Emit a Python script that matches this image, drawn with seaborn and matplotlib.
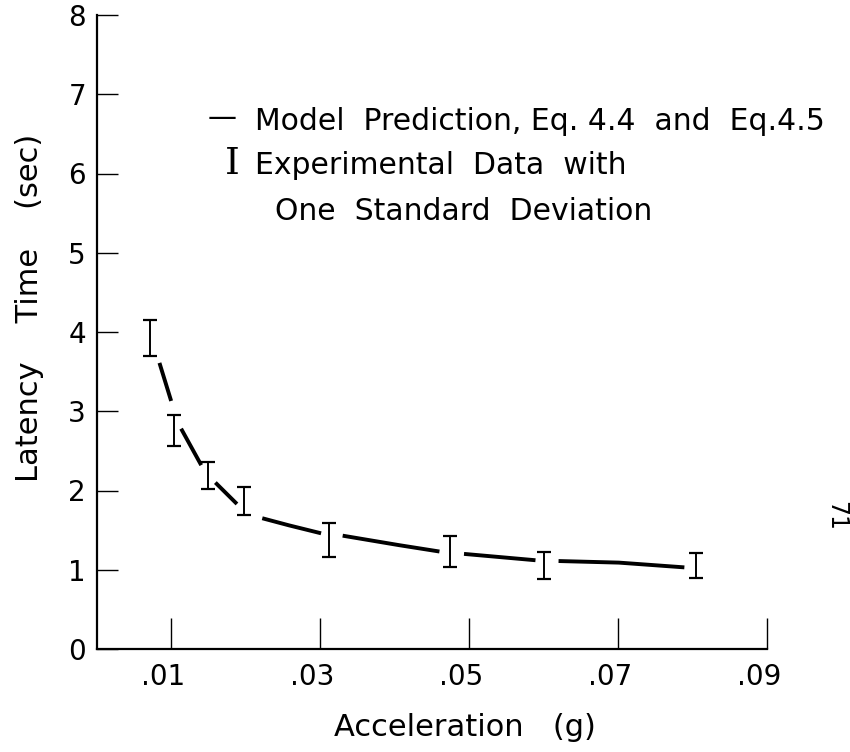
import numpy as np
import pandas as pd
import matplotlib
matplotlib.use("Agg")
import matplotlib.pyplot as plt
import matplotlib.transforms as mtransforms
import seaborn as sns

# ---- data ----
exp_accel = [0.0071, 0.0104, 0.0149, 0.0198, 0.0312, 0.0474, 0.0601, 0.0804]
exp_upper = [4.15, 2.95, 2.36, 2.04, 1.59, 1.42, 1.23, 1.21]
exp_lower = [3.70, 2.56, 2.02, 1.69, 1.16, 1.04, 0.88, 0.89]

model_accel = [0.00839, 0.00996,
               0.0113, 0.0140,
               0.0159, 0.0188,
               0.0222, 0.0258, 0.0301,
               0.0330, 0.0406, 0.0460,
               0.0493, 0.0589,
               0.0620, 0.0701, 0.0789]
model_time = [3.61, 3.13,
              2.78, 2.32,
              2.10, 1.83,
              1.65, 1.56, 1.46,
              1.43, 1.31, 1.23,
              1.20, 1.12,
              1.11, 1.09, 1.03]
model_segment = [1, 1, 2, 2, 3, 3, 4, 4, 4, 5, 5, 5, 6, 6, 7, 7, 7]

x_ticks = [0.01, 0.03, 0.05, 0.07, 0.09]
x_tick_labels = [".01", ".03", ".05", ".07", ".09"]
y_ticks = [0, 1, 2, 3, 4, 5, 6, 7, 8]
y_tick_labels = ["0", "1", "2", "3", "4", "5", "6", "7", "8"]

legend_line1 = "Model  Prediction, Eq. 4.4  and  Eq.4.5"
legend_line2 = "Experimental  Data  with"
legend_line3 = "One  Standard  Deviation"
x_label = "Acceleration   (g)"
y_label = "Latency    Time    (sec)"
page_number = "71"

# ---- style ----
sns.set_style("ticks")
plt.rcParams["font.family"] = ["DejaVu Sans"]
plt.rcParams["text.color"] = "black"

fig = plt.figure(figsize=(8.5, 7.52), dpi=100)
ax = fig.add_axes([97 / 850, 1 - 649 / 752, 670 / 850, 634 / 752])

model_df = pd.DataFrame({"accel": model_accel, "time": model_time,
                         "seg": model_segment})
sns.lineplot(data=model_df, x="accel", y="time", units="seg",
             estimator=None, color="black", linewidth=2.8, ax=ax,
             legend=False, solid_capstyle="butt")

mid = [(u + l) / 2 for u, l in zip(exp_upper, exp_lower)]
err = [(u - l) / 2 for u, l in zip(exp_upper, exp_lower)]
ax.errorbar(exp_accel, mid, yerr=err, fmt="none", ecolor="black",
            elinewidth=1.4, capsize=5, capthick=1.6)

ax.set_xlim(0, 0.09)
ax.set_ylim(0, 8)
ax.set_xticks(x_ticks)
ax.set_xticklabels(x_tick_labels)
ax.set_yticks(y_ticks)
ax.set_yticklabels(y_tick_labels)
ax.set_xlabel("")
ax.set_ylabel("")

for s in ["top", "right"]:
    ax.spines[s].set_visible(False)
for s in ["left", "bottom"]:
    ax.spines[s].set_linewidth(1.6)
    ax.spines[s].set_color("black")

ax.tick_params(axis="x", direction="in", length=22, width=1.0,
               labelsize=20, pad=10, colors="black")
ax.tick_params(axis="y", direction="in", length=15, width=1.0,
               labelsize=20, pad=8, colors="black")

offset = mtransforms.ScaledTranslation(-8 / 100, 0, fig.dpi_scale_trans)
for lab in ax.get_xticklabels():
    lab.set_transform(lab.get_transform() + offset)

# axis labels
fig.text(465 / 850, 1 - 728 / 752, x_label, ha="center", va="center",
         fontsize=22)
fig.text(30 / 850, 1 - 308 / 752, y_label, ha="center", va="center",
         rotation=90, fontsize=22)

# in-plot legend text
fig.text(222 / 850, 1 - 118 / 752, "\u2014", ha="center", va="center",
         fontsize=21)
fig.text(255 / 850, 1 - 122 / 752, legend_line1, ha="left", va="center",
         fontsize=21.5)
fig.text(232 / 850, 1 - 164 / 752, "I", ha="center", va="center",
         fontsize=27, family=["DejaVu Serif"])
fig.text(255 / 850, 1 - 166 / 752, legend_line2, ha="left", va="center",
         fontsize=21.5)
fig.text(275 / 850, 1 - 212 / 752, legend_line3, ha="left", va="center",
         fontsize=21.5)

# page number
fig.text(836 / 850, 1 - 516 / 752, page_number, ha="center", va="center",
         rotation=270, fontsize=17)

fig.savefig("out.png", dpi=100, facecolor="white")
